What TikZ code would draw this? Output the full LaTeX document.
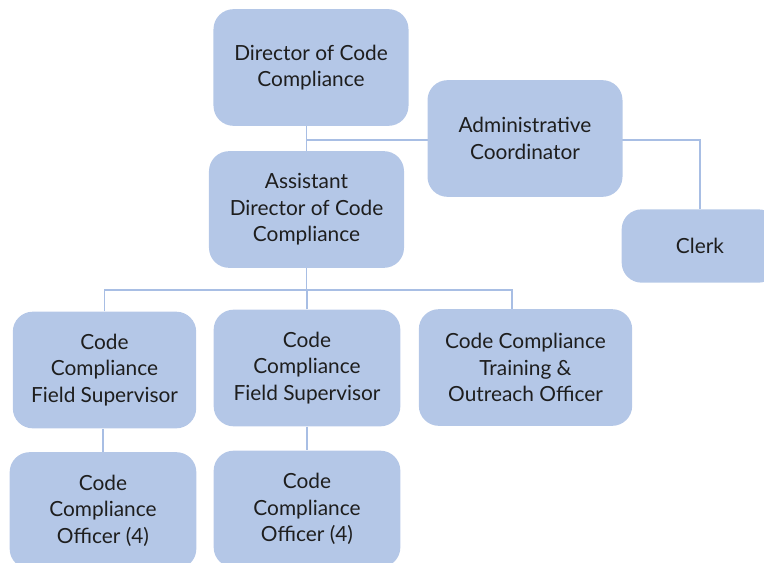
\documentclass[tikz,border=0pt]{standalone}
\usepackage{fontspec}
\setmainfont{Lato}
\usetikzlibrary{positioning, backgrounds}
\definecolor{boxblue}{RGB}{180,199,231}
\definecolor{lineblue}{RGB}{168,190,228}
\definecolor{textdark}{RGB}{30,30,30}

\begin{document}
\begin{tikzpicture}[
    x=0.03cm, y=-0.03cm,
    obox/.style={rounded corners=0.6cm, fill=boxblue,
        minimum width=5.85cm, minimum height=3.5cm,
        font=\fontsize{17.8}{22.5}\selectfont, text=textdark, align=center},
    link/.style={lineblue, line width=1.3pt}
]
\useasboundingbox (0,0) rectangle (764,562);

% Top level
\node[obox] (dir) at (311,67.5) {Director of Code\\Compliance};
\node[obox] (admin) at (525,138.5) {Administrative\\Coordinator};
\node[obox, minimum height=2.2cm, minimum width=4.7cm] (clerk) at (700,246) {Clerk};

% Assistant
\node[obox] (asst) at (306.5,209.5) {Assistant\\Director of Code\\Compliance};

% Third row
\node[obox, minimum width=5.5cm] (sup1) at (104.5,370) {Code\\Compliance\\Field Supervisor};
\node[obox, minimum width=5.6cm] (sup2) at (307,368) {Code\\Compliance\\Field Supervisor};
\node[obox, minimum width=6.4cm] (train) at (525.5,367.5) {Code Compliance\\Training \&\\Outreach Officer};

% Bottom row
\node[obox, minimum width=5.6cm] (off1) at (103,510.5) {Code\\Compliance\\Officer (4)};
\node[obox, minimum width=5.6cm] (off2) at (307,509) {Code\\Compliance\\Officer (4)};

\coordinate (top) at (306,140);
\coordinate (mid) at (306,290);

\begin{scope}[on background layer]
\draw[link] (asst.north) -- (asst.north |- dir.south);
\draw[link] (top) -| (clerk.north);
\draw[link] (asst.south) -- (asst.south |- mid);
\draw[link] (sup1.north) |- (mid) -| ([xshift=-0.4cm]train.north);
\draw[link] (sup2.north) -- (sup2.north |- mid);
\draw[link] (off1.north) -- (off1.north |- sup1.south);
\draw[link] (sup2.south) -- (off2.north);
\end{scope}

\end{tikzpicture}
\end{document}
